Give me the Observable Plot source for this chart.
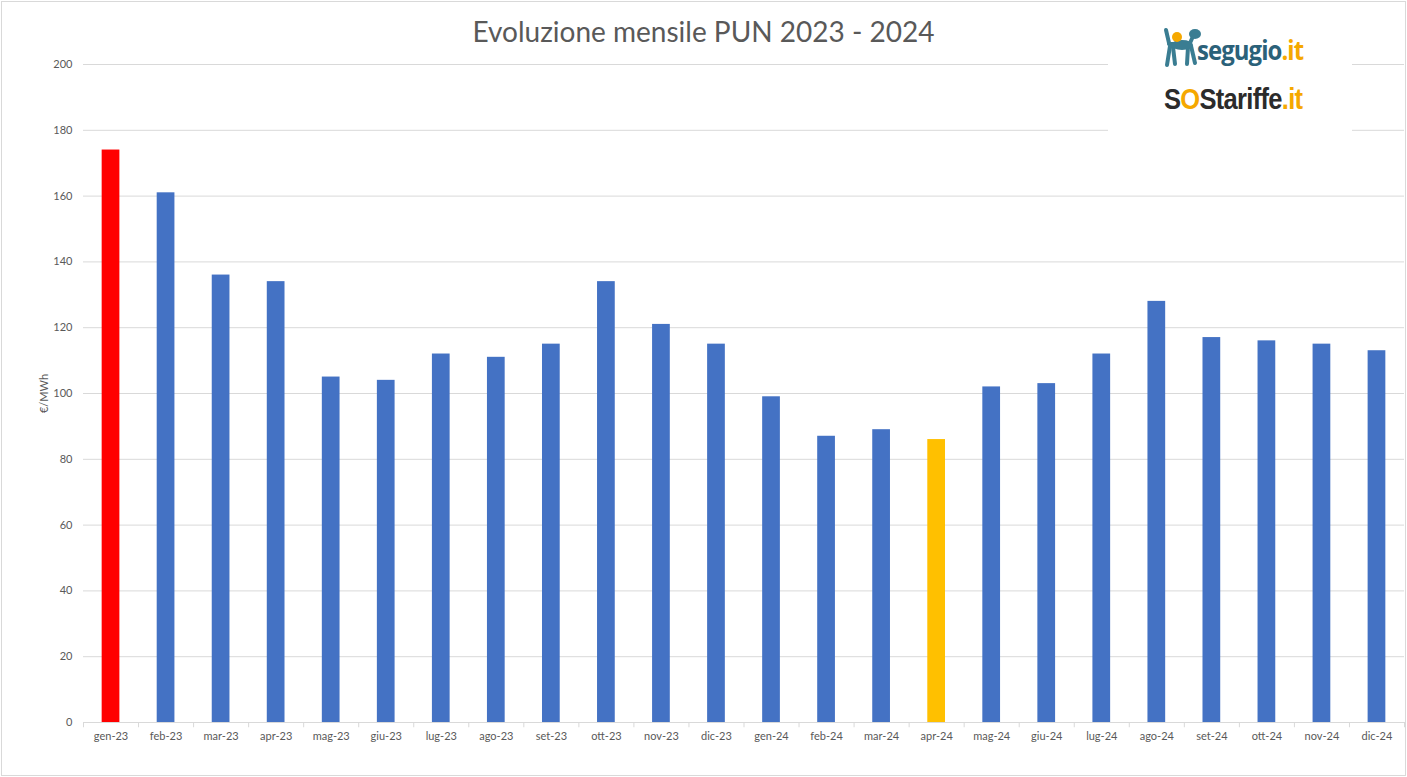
<!DOCTYPE html>
<html><head><meta charset="utf-8">
<script src="https://cdn.jsdelivr.net/npm/d3@7"></script>
<script src="https://cdn.jsdelivr.net/npm/@observablehq/plot@0.6"></script>
<style>
body{margin:0;background:#fff;}
#wrap{position:relative;width:1407px;height:777px;overflow:hidden;font-family:Lato,"Open Sans",sans-serif;background:#fff;}
#chart{position:absolute;left:0;top:0;}
#title{position:absolute;left:0;top:14px;width:1407px;text-align:center;font-size:28px;color:#595959;font-family:Lato,"Open Sans",sans-serif;}
#logo{position:absolute;left:1108px;top:18px;width:244px;height:116px;background:#fff;}
#seg{position:absolute;left:89px;top:14px;font-family:"Open Sans",sans-serif;font-weight:700;font-size:26px;color:#2b6179;letter-spacing:-1px;transform:scaleX(0.92);transform-origin:left top;}
#sos{position:absolute;left:56px;top:65px;font-family:"Liberation Sans",sans-serif;font-weight:700;font-size:29px;color:#2b2b2b;letter-spacing:-0.8px;transform:scaleX(0.88);transform-origin:left top;}
.or{color:#f5a800;}
#dog{position:absolute;left:54px;top:8px;}
#border{position:absolute;left:1px;top:1px;width:1403px;height:773px;border:1px solid #d9d9d9;pointer-events:none;}
</style></head><body>
<div id="wrap">
  <div id="chart"></div>
  <div id="title">Evoluzione mensile PUN 2023 - 2024</div>
  <div id="logo">
    <svg id="dog" width="40" height="42" viewBox="0 0 40 42">
      <g stroke="#3a7d92" stroke-width="4" stroke-linecap="round" fill="none">
        <path d="M7 17 L4 4"/>
        <path d="M7 18 L28 18"/>
        <path d="M8 20 L5 39"/>
        <path d="M11 21 L13 38"/>
        <path d="M26 21 L25 38"/>
        <path d="M29 20 L33 37"/>
        <path d="M28 17 L32 8"/>
      </g>
      <ellipse cx="20" cy="19" rx="11" ry="5" fill="#3a7d92"/>
      <ellipse cx="33" cy="8" rx="6" ry="5" fill="#3a7d92"/>
      <circle cx="15" cy="11" r="5" fill="#f5a800"/>
    </svg>
    <div id="seg">segugio<span class="or">.it</span></div>
    <div id="sos">S<span class="or">O</span>Stariffe<span class="or">.it</span></div>
  </div>
  <div id="border"></div>
</div>
<script>
const months = ["gen-23","feb-23","mar-23","apr-23","mag-23","giu-23","lug-23","ago-23","set-23","ott-23","nov-23","dic-23",
                "gen-24","feb-24","mar-24","apr-24","mag-24","giu-24","lug-24","ago-24","set-24","ott-24","nov-24","dic-24"];
const pun = [174,161,136,134,105,104,112,111,115,134,121,115,
             99,87,89,86,102,103,112,128,117,116,115,113];
const yTicks = [0,20,40,60,80,100,120,140,160,180,200];

const data = months.map((m,i)=>({month:m, value:pun[i]}));
const maxV = d3.max(pun), minV = d3.min(pun);
const W = 1407, H = 777, ML = 83, MR = 3, MT = 64, MB = 55;
const step = (W - ML - MR) / months.length;

const chart = Plot.plot({
  width: W, height: H,
  marginLeft: ML, marginRight: MR, marginTop: MT, marginBottom: MB,
  style: {fontFamily: "Lato, 'Open Sans', sans-serif", fontSize: "11px", color: "#595959", background: "#fff"},
  x: {domain: months, paddingInner: 0.678, paddingOuter: 0.339, round: false, label: null},
  y: {domain: [0,200], ticks: yTicks, label: "€/MWh"},
  marks: [
    Plot.gridY(yTicks, {stroke: "#d9d9d9", strokeOpacity: 1}),
    Plot.axisY(yTicks, {tickSize: 0, tickPadding: 11, label: "€/MWh", labelAnchor: "center", labelArrow: "none", labelOffset: 43, fill: "#595959", fontSize: 11}),
    Plot.axisX({tickSize: 0, tickPadding: 10, fill: "#595959", fontSize: 11, label: null}),
    Plot.barY(data, {x: "month", y: "value", fill: d => d.value === maxV ? "#FF0000" : d.value === minV ? "#FFC000" : "#4472C4"}),
    Plot.ruleY([0], {stroke: "#d9d9d9"}),
    Plot.ruleX(months, {x: d => d, y1: 0, y2: -1.6, dx: -step/2, stroke: "#d9d9d9"}),
    Plot.ruleX(months.slice(-1), {x: d => d, y1: 0, y2: -1.6, dx: step/2, stroke: "#d9d9d9"})
  ]
});
document.getElementById("chart").appendChild(chart);
</script>
</body></html>
